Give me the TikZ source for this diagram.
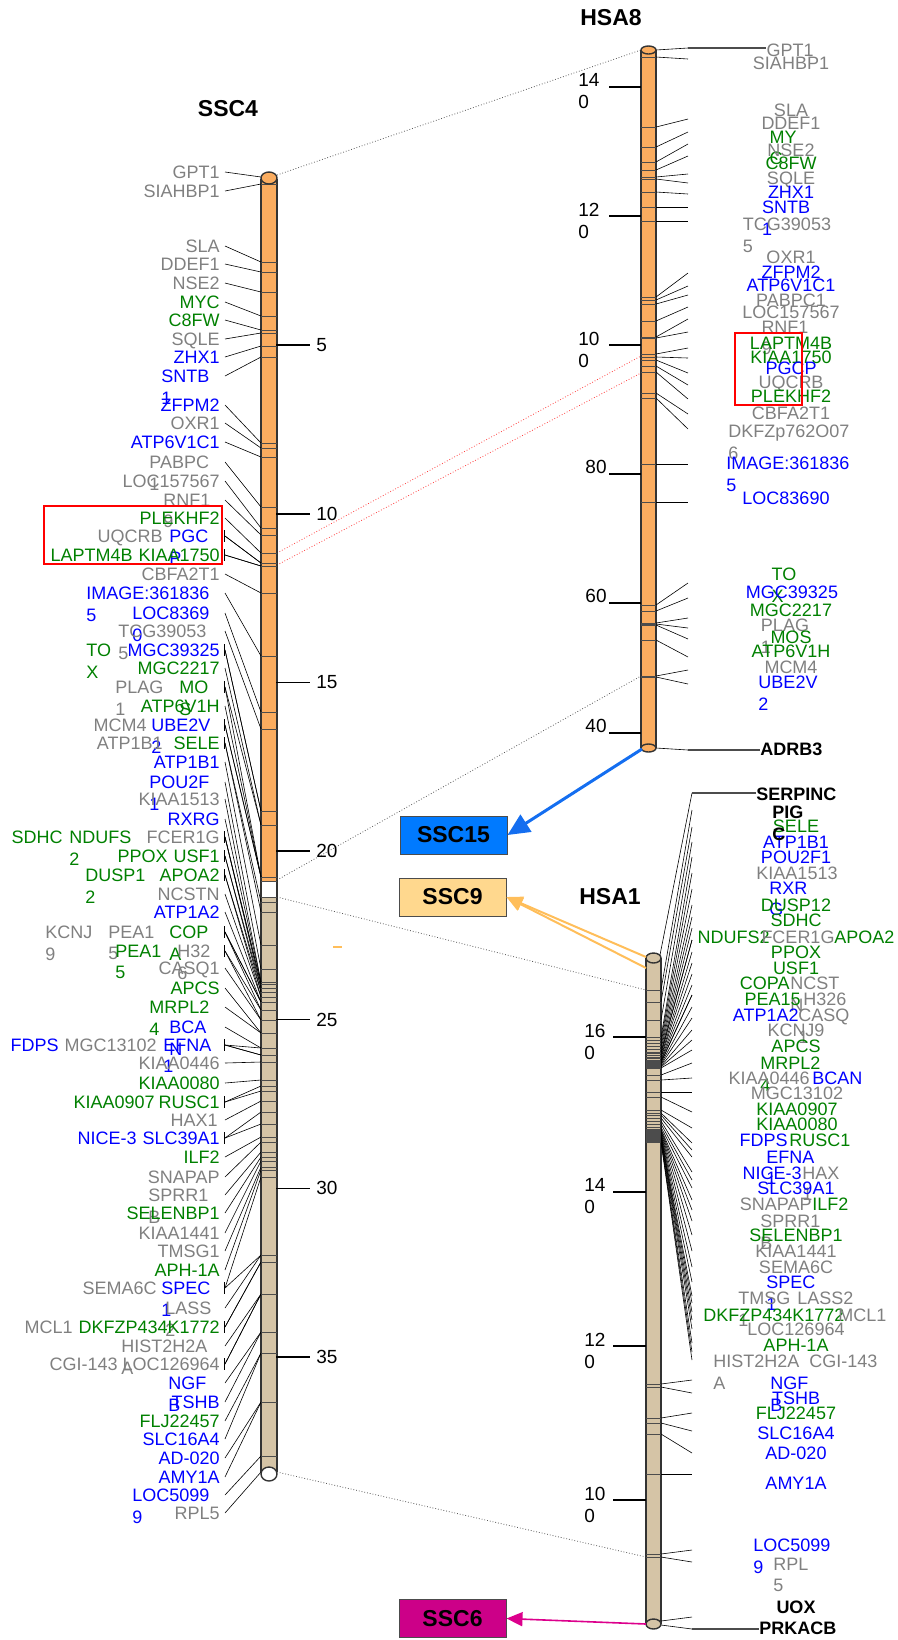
\documentclass[tikz,border=0pt]{standalone}
\usepackage{fontspec}
\setmainfont{Liberation Sans}
\usetikzlibrary{arrows.meta}

\definecolor{chrOrange}{RGB}{250,172,95}
\definecolor{chrTan}{RGB}{213,196,166}
\definecolor{gy}{RGB}{128,128,128}
\definecolor{gn}{RGB}{0,128,0}
\definecolor{bl}{RGB}{0,0,255}
\definecolor{boxBlue}{RGB}{0,122,255}
\definecolor{boxSand}{RGB}{255,216,142}
\definecolor{boxMagenta}{RGB}{204,0,136}
\definecolor{arrBlue}{RGB}{20,110,240}
\definecolor{arrOrange}{RGB}{255,190,90}
\definecolor{arrMagenta}{RGB}{220,0,140}

\begin{document}
\begin{tikzpicture}[x=0.5pt, y=-0.5pt,
  gene/.style={inner sep=0pt, yshift=3.25pt, align=left, font=\fontsize{9}{10.8}\selectfont},
  endgene/.style={inner sep=0pt, yshift=3.25pt, align=left, font=\fontsize{9}{10.8}\selectfont\bfseries},
  link/.style={line width=0.3pt},
  lead/.style={line width=0.7pt, black!70},
  band/.style={line width=0.5pt, black!70},
  chrom/.style={line width=0.7pt, draw=black!80},
  tick/.style={line width=0.8pt},
  scalenum/.style={inner sep=0pt, align=left, font=\fontsize{9.5}{11}\selectfont},
  title/.style={font=\fontsize{11.5}{13}\selectfont\bfseries},
  syn/.style={densely dotted, line width=0.4pt, black!65},
  synred/.style={densely dotted, line width=0.4pt, red!75},
  ssc/.style={draw=black!70, line width=0.5pt, inner sep=0pt, minimum width=53.5pt, minimum height=19pt, font=\fontsize{11.5}{13}\selectfont\bfseries}
]
\useasboundingbox (0,0) rectangle (898,1640);

% titles
\node[title] (ssc4title) at (228,109) {SSC4};
\node[title] (hsa8title) at (611,18) {HSA8};
\node[title] (hsa1title) at (610,897) {HSA1};

% synteny lines
\coordinate (s4top) at (277,175);
\coordinate (s4mid) at (277,880);
\coordinate (s4q) at (277,897);
\coordinate (s4bot) at (277,1472);
\coordinate (h8top) at (641,50);
\coordinate (h8low) at (641,676);
\coordinate (h1up) at (646,990);
\coordinate (h1low) at (646,1557);
\draw[syn] (s4top) -- (h8top);
\draw[syn] (s4mid) -- (h8low);
\draw[syn] (s4q) -- (h1up);
\draw[syn] (s4bot) -- (h1low);
\coordinate (s4pg1) at (277,553);
\coordinate (s4pg2) at (277,565);
\coordinate (h8pg1) at (641,356);
\coordinate (h8pg2) at (641,373);
\draw[synred] (s4pg1) -- (h8pg1);
\draw[synred] (s4pg2) -- (h8pg2);

% SSC4
\fill[chrOrange] (261,179) rectangle (277,881);
\fill[white] (261,881) rectangle (277,897);
\fill[chrTan] (261,897) rectangle (277,1472);
\draw[chrom] (261,179) -- (261,1472) (277,179) -- (277,1472);
\draw[band] (261,881) -- (277,881) (261,897) -- (277,897);

\foreach \v in {5,10,...,35}{
  \pgfmathsetmacro{\ty}{176.4+33.73*\v}
  \draw[tick] (276,\ty) -- (310,\ty);
  \node[scalenum, anchor=west] (s4t\v) at (316,\ty) {\v};
}

\foreach \px/\py/\an/\co/\tx/\bd [count=\i] in {
  220/172/north east/gy/GPT1/177,
  220/191/north east/gy/SIAHBP1/184,
  220/246/north east/gy/SLA/262,
  220/264/north east/gy/DDEF1/272,
  220/283/north east/gy/NSE2/292,
  220/302/north east/gn/MYC/316,
  220/320/north east/gn/C8FW/330,
  220/339/north east/gy/SQLE/333,
  220/357/north east/bl/ZHX1/346,
  161/376/north west/bl/SNTB\\1/357,
  220/405/north east/bl/ZFPM2/443,
  220/423/north east/gy/OXR1/448,
  220/442/north east/bl/ATP6V1C1/457,
  149/462/north west/gy/PABPC\\1/507,
  220/481/north east/gy/LOC157567/528,
  163/500/north west/gy/RNF1\\9/535,
  220/518/north east/gn/PLEKHF2/553,
  163/536/north east/gy/UQCRB/563,
  169/536/north west/bl/PGC\\P/563,
  133/555/north east/gn/LAPTM4B/566,
  220/555/north east/gn/KIAA1750/566,
  220/574/north east/gy/CBFA2T1/593,
  86/593/north west/bl/IMAGE:361836\\5/656,
  132/613/north west/bl/LOC8369\\0/712,
  118/631/north west/gy/TCG39053\\5/729,
  86/650/north west/gn/TO\\X/811,
  220/650/north east/bl/MGC39325/811,
  220/668/north east/gn/MGC2217/825,
  115/687/north west/gy/PLAG\\1/825,
  179/687/north west/gn/MO\\S/877,
  220/706/north east/gn/ATP6V1H/877,
  147/725/north east/gy/MCM4/877,
  151/725/north west/bl/UBE2V\\2/877,
  163/743/north east/gy/ATP1B1/902,
  220/743/north east/gn/SELE/912,
  220/762/north east/bl/ATP1B1/945,
  149/782/north west/bl/POU2F\\1/969,
  220/799/north east/gy/KIAA1513/982,
  220/819/north east/bl/RXRG/982,
  63/837/north east/gn/SDHC/984,
  69/837/north west/gn/NDUFS\\2/984,
  220/837/north east/gy/FCER1G/988,
  168/856/north east/gn/PPOX/988,
  220/856/north east/gn/USF1/992,
  85/875/north west/gn/DUSP1\\2/992,
  220/875/north east/gn/APOA2/997,
  220/894/north east/gy/NCSTN/997,
  220/912/north east/bl/ATP1A2/1002,
  45/932/north west/gy/KCNJ\\9/1002,
  108/932/north west/gy/PEA1\\5/1002,
  169/932/north west/gn/COP\\A/1010,
  115/951/north west/gn/PEA1\\5/1010,
  177/951/north west/gy/H32\\6/1020,
  220/968/north east/gy/CASQ1/1020,
  220/988/north east/gn/APCS/1033,
  149/1007/north west/gn/MRPL2\\4/1033,
  169/1027/north west/bl/BCA\\N/1048,
  59/1045/north east/bl/FDPS/1048,
  157/1045/north east/gy/MGC13102/1055,
  163/1045/north west/bl/EFNA\\1/1055,
  220/1063/north east/gy/KIAA0446/1062,
  220/1083/north east/gn/KIAA0080/1080,
  155/1102/north east/gn/KIAA0907/1086,
  220/1102/north east/gn/RUSC1/1091,
  218/1120/north east/gy/HAX1/1101,
  137/1138/north east/bl/NICE-3/1112,
  220/1138/north east/bl/SLC39A1/1124,
  220/1157/north east/gn/ILF2/1137,
  220/1177/north east/gy/SNAPAP/1142,
  148/1195/north west/gy/SPRR1\\B/1152,
  220/1213/north east/gn/SELENBP1/1157,
  220/1233/north east/gy/KIAA1441/1161,
  220/1251/north east/gy/TMSG1/1167,
  220/1270/north east/gn/APH-1A/1170,
  157/1288/north east/gy/SEMA6C/1177,
  161/1288/north west/bl/SPEC\\1/1255,
  165/1308/north west/gy/LASS\\2/1255,
  73/1327/north east/gy/MCL1/1262,
  220/1327/north east/gn/DKFZP434K1772/1262,
  121/1346/north west/gy/HIST2H2A\\A/1294,
  118/1364/north east/gy/CGI-143/1294,
  220/1364/north east/gy/LOC126964/1294,
  168/1383/north west/bl/NGF\\B/1332,
  220/1402/north east/bl/TSHB/1332,
  220/1421/north east/gn/FLJ22457/1353,
  220/1439/north east/bl/SLC16A4/1353,
  220/1458/north east/bl/AD-020/1402,
  220/1477/north east/bl/AMY1A/1402,
  132/1495/north west/bl/LOC5099\\9/1456,
  220/1513/north east/gy/RPL5/1472}{
  \coordinate (s4a\i) at (225,\py);
  \coordinate (s4b\i) at (261,\bd);
  \draw[band] (261,\bd) -- (277,\bd);
  \draw[link] (s4a\i) -- (s4b\i);
  \node[gene, anchor=\an, text=\co] (s4g\i) at (\px,\py) {\tx};
}
\foreach \ry in {536,555,650,687,725,743,837,856,875,932,951,1045,1102,1138,1288,1327,1364}
  \draw[link] (224,\ry-6) -- (224,\ry+6);

\filldraw[chrom, fill=chrOrange] (269,178) ellipse [x radius=8, y radius=6];
\filldraw[chrom, fill=white] (269,1474) ellipse [x radius=8, y radius=7];
\draw[red, line width=1pt] (44,506) rectangle (222,564);

% HSA8
\fill[chrOrange] (641,50) rectangle (656,748);
\draw[chrom] (641,50) -- (641,748) (656,50) -- (656,748);
\draw[tick] (609,87) -- (641,87);
\draw[tick] (609,216) -- (641,216);
\draw[tick] (609,345) -- (641,345);
\draw[tick] (609,474) -- (641,474);
\draw[tick] (609,603) -- (641,603);
\draw[tick] (609,733) -- (641,733);
\node[scalenum, anchor=north west] (h8t140) at (578,73.5) {14\\0};
\node[scalenum, anchor=north west] (h8t120) at (578,202.5) {12\\0};
\node[scalenum, anchor=north west] (h8t100) at (578,331.5) {10\\0};
\node[scalenum, anchor=south east] (h8t80) at (607,474) {80};
\node[scalenum, anchor=south east] (h8t60) at (607,603) {60};
\node[scalenum, anchor=south east] (h8t40) at (607,733) {40};

\foreach \px/\py/\an/\co/\tx/\ey/\bd [count=\i] in {
  791/63/north/gy/SIAHBP1/59/57,
  791/110/north/gy/SLA/119/127,
  791/123/north/gy/DDEF1/132/147,
  783/137/north/gn/MY\\C/144/162,
  791/150/north/gy/NSE2/156/170,
  791/163/north/gn/C8FW/174/177,
  791/178/north/gy/SQLE/183/179,
  791/192/north/bl/ZHX1/194/192,
  786/207/north/bl/SNTB\\1/207/207,
  787/224/north/gy/TCG39053\\5/221/221,
  791/257/north/gy/OXR1/273/297,
  791/272/north/bl/ZFPM2/286/300,
  791/285/north/bl/ATP6V1C1/295/304,
  791/300/north/gy/PABPC1/307/321,
  791/312/north/gy/LOC157567/319/337,
  785/327/north/gy/RNF1\\9/332/338,
  791/343/north/gn/LAPTM4B/348/354,
  791/357/north/gn/KIAA1750/358/357,
  791/368/north/bl/PGCP/373/360,
  791/382/north/gy/UQCRB/385/366,
  791/396/north/gn/PLEKHF2/399/372,
  791/413/north/gy/CBFA2T1/414/393,
  728/431/north west/gy/DKFZp762O07\\6/429/398,
  726/463/north west/bl/IMAGE:361836\\5/464/464,
  786/498/north/bl/LOC83690/502/502,
  784/574/north/gn/TO\\X/583/605,
  792/592/north/bl/MGC39325/598/611,
  791/610/north/gn/MGC2217/618/623,
  785/625/north/gy/PLAG\\1/628/624,
  791/637/north/gn/MOS/639/625,
  791/651/north/gn/ATP6V1H/657/640,
  791/667/north/gy/MCM4/670/676,
  788/682/north/bl/UBE2V\\2/684/677}{
  \coordinate (h8a\i) at (656,\bd);
  \coordinate (h8b\i) at (688,\ey);
  \draw[band] (641,\bd) -- (656,\bd);
  \draw[link] (h8a\i) -- (h8b\i);
  \node[gene, anchor=\an, text=\co] (h8g\i) at (\px,\py) {\tx};
}
\node[gene, anchor=north, text=gy] (h8gpt) at (790,50) {GPT1};
\coordinate (h8gptband) at (656,50);
\coordinate (h8gptend) at (688,48);
\draw[link] (h8gptband) -- (h8gptend);
\draw[lead] (h8gptend) -- (h8gptend -| h8gpt.west);
\node[endgene, anchor=north west] (adrb3) at (760,749) {ADRB3};
\coordinate (h8adband) at (656,748);
\coordinate (h8adend) at (688,750);
\draw[link] (h8adband) -- (h8adend);
\draw[lead] (h8adend) -- (h8adend -| adrb3.west);
\filldraw[chrom, fill=chrOrange] (648.5,50) ellipse [x radius=7.5, y radius=4];
\filldraw[chrom, fill=chrOrange] (648.5,748) ellipse [x radius=7.5, y radius=4];
\draw[red, line width=1pt] (735,333) rectangle (802,405);

% HSA1
\fill[chrTan] (646,958) rectangle (661,1624);
\draw[chrom] (646,958) -- (646,1624) (661,958) -- (661,1624);
\draw[tick] (613,1037) -- (646,1037);
\draw[tick] (613,1192) -- (646,1192);
\draw[tick] (613,1346) -- (646,1346);
\draw[tick] (613,1500) -- (646,1500);
\node[scalenum, anchor=north west] (h1t160) at (584,1023.5) {16\\0};
\node[scalenum, anchor=north west] (h1t140) at (584,1178.5) {14\\0};
\node[scalenum, anchor=north west] (h1t120) at (584,1332.5) {12\\0};
\node[scalenum, anchor=north west] (h1t100) at (584,1486.5) {10\\0};

\foreach \px/\py/\an/\co/\tx/\ey/\bd [count=\i] in {
  796/826/north/gn/SELE/827/1002,
  796/842/north/bl/ATP1B1/842/1020,
  796/857/north/bl/POU2F1/857/1037,
  797/873/north/gy/KIAA1513/873/1040,
  769/888/north west/bl/RXR\\G/889/1043,
  796/905/north/gn/DUSP12/905/1046,
  796/920/north/gn/SDHC/917/1049,
  770/937/north east/gn/NDUFS2/928/1052,
  798/937/north/gy/FCER1G/940/1053,
  834/937/north west/gn/APOA2/940/1055,
  796/952/north/gn/PPOX/952/1057,
  796/968/north/gn/USF1/963/1058,
  790/983/north east/gn/COPA/974/1060,
  790/983/north west/gy/NCST\\N/985/1061,
  801/999/north east/gn/PEA15/995/1062,
  803/999/north west/gy/H326/995/1063,
  799/1015/north east/bl/ATP1A2/1007/1064,
  798/1015/north west/gy/CASQ\\1/1018/1065,
  796/1030/north/gy/KCNJ9/1030/1066,
  796/1046/north/gn/APCS/1040/1067,
  760/1063/north west/gn/MRPL2\\4/1050/1068,
  810/1078/north east/gy/KIAA0446/1063/1075,
  812/1078/north west/bl/BCAN/1078/1080,
  797/1093/north/gy/MGC13102/1092/1092,
  797/1109/north/gn/KIAA0907/1112/1097,
  797/1124/north/gn/KIAA0080/1128/1110,
  788/1140/north east/bl/FDPS/1143/1113,
  789/1140/north west/gn/RUSC1/1150/1115,
  766/1157/north west/bl/EFNA\\1/1157/1118,
  802/1173/north east/bl/NICE-3/1172/1121,
  802/1173/north west/gy/HAX\\1/1180/1124,
  796/1188/north/bl/SLC39A1/1188/1127,
  812/1204/north east/gy/SNAPAP/1200/1129,
  812/1204/north west/gn/ILF2/1210/1130,
  760/1221/north west/gy/SPRR1\\B/1221/1131,
  796/1235/north/gn/SELENBP1/1235/1132,
  796/1251/north/gy/KIAA1441/1251/1133,
  796/1267/north/gy/SEMA6C/1267/1134,
  766/1282/north west/bl/SPEC\\1/1282/1135,
  738/1298/north west/gy/TMSG\\1/1296/1136,
  797/1298/north west/gy/LASS2/1303/1137,
  703/1315/north west/gn/DKFZP434K1772/1312/1137,
  838/1315/north west/gy/MCL1/1320/1138,
  796/1329/north/gy/LOC126964/1329/1139,
  796/1345/north/gn/APH-1A/1343/1140,
  713/1361/north west/gy/HIST2H2A\\A/1352/1141,
  809/1361/north west/gy/CGI-143/1360/1142,
  770/1383/north west/bl/NGF\\B/1380/1384,
  796/1398/north/bl/TSHB/1393/1387,
  796/1413/north/gn/FLJ22457/1413/1418,
  796/1433/north/bl/SLC16A4/1431/1423,
  796/1453/north/bl/AD-020/1453/1434,
  796/1483/north/bl/AMY1A/1474/1474,
  753/1545/north west/bl/LOC5099\\9/1550/1554,
  773/1564/north west/gy/RPL\\5/1562/1557}{
  \coordinate (h1a\i) at (661,\bd);
  \coordinate (h1b\i) at (692,\ey);
  \draw[band] (646,\bd) -- (661,\bd);
  \draw[link] (h1a\i) -- (h1b\i);
  \node[gene, anchor=\an, text=\co] (h1g\i) at (\px,\py) {\tx};
}
\node[endgene, anchor=north west] (serpinc) at (756,794) {SERPINC};
\coordinate (h1serband) at (659,960);
\coordinate (h1serend) at (692,793);
\draw[link] (h1serband) -- (h1serend);
\draw[lead] (h1serend) -- (h1serend -| serpinc.west);
\node[endgene, anchor=north west] (pigc) at (772,812) {PIG\\C};
\coordinate (h1pigband) at (661,990);
\coordinate (h1pigend) at (692,810);
\draw[band] (646,990) -- (661,990);
\draw[link] (h1pigband) -- (h1pigend);
\node[endgene, anchor=north] (uox) at (796,1607) {UOX};
\coordinate (h1uoxband) at (661,1621);
\coordinate (h1uoxend) at (692,1617);
\draw[link] (h1uoxband) -- (h1uoxend);
\node[endgene, anchor=north west] (prkacb) at (759,1628) {PRKACB};
\coordinate (h1prkband) at (661,1625);
\coordinate (h1prkend) at (692,1629);
\draw[link] (h1prkband) -- (h1prkend);
\draw[lead] (h1prkend) -- (h1prkend -| prkacb.west);
\filldraw[chrom, fill=chrTan] (653.5,958) ellipse [x radius=7.5, y radius=5];
\filldraw[chrom, fill=chrTan] (653.5,1624) ellipse [x radius=7.5, y radius=5];

% pig chromosome boxes
\node[ssc, fill=boxBlue] (ssc15) at (453.5,835) {SSC15};
\node[ssc, fill=boxSand] (ssc9) at (452.5,897) {SSC9};
\node[ssc, fill=boxMagenta] (ssc6) at (452.5,1618.5) {SSC6};

\coordinate (h8bot) at (642,749);
\coordinate (h1topA) at (646,957);
\coordinate (h1topB) at (646,968);
\coordinate (h1bot) at (646,1624);
\draw[arrBlue, line width=1.5pt, -{Triangle[length=11pt,width=10pt]}] (h8bot) -- (ssc15.east);
\draw[arrOrange, line width=1pt, -{Triangle[length=8pt,width=7pt]}] (h1topA) -- (ssc9.east);
\draw[arrOrange, line width=1pt, -{Triangle[length=8pt,width=7pt]}] (h1topB) -- (ssc9.east);
\draw[arrMagenta, line width=0.8pt, -{Triangle[length=8pt,width=7pt]}] (h1bot) -- (ssc6.east);
\draw[arrOrange, line width=0.6pt] (333,947) -- (342,947);
\end{tikzpicture}
\end{document}
